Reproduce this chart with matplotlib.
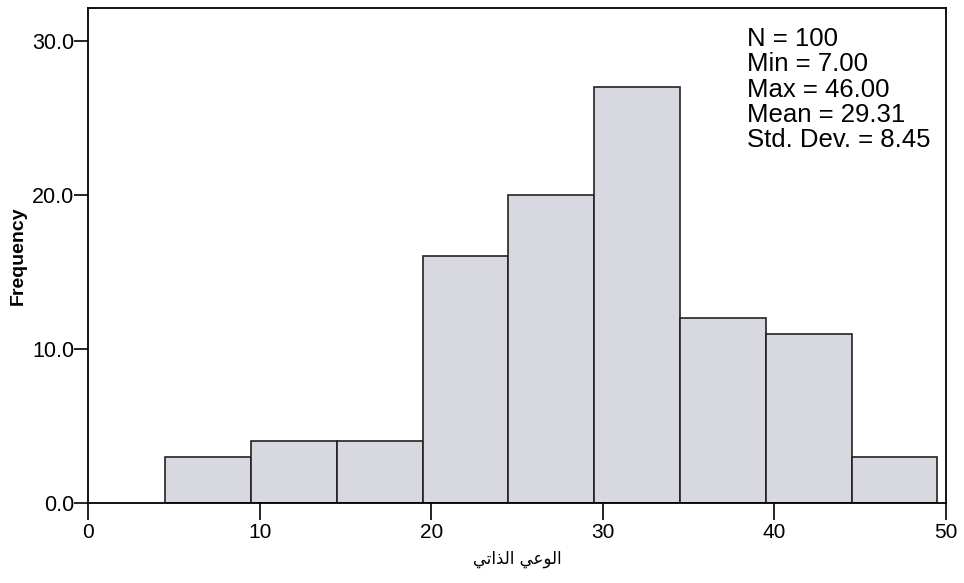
import matplotlib.pyplot as plt
import numpy as np

# bordes de las clases y frecuencias
bordes = [4.5, 9.5, 14.5, 19.5, 24.5, 29.5, 34.5, 39.5, 44.5, 49.5]
frecuencias = [3, 4, 4, 16, 20, 27, 12, 11, 3]
ticks_x = [0, 10, 20, 30, 40, 50]
ticks_y = [0, 10, 20, 30]
estadisticas = ["N = 100", "Min = 7.00", "Max = 46.00", "Mean = 29.31", "Std. Dev. = 8.45"]

# "الوعي الذاتي" con formas de presentación (matplotlib no da forma al árabe)
etiqueta_x = "\uFEF2\uFE97\uFE8D\uFEAC\uFEDF\uFE8D \uFEF2\uFECB\uFEEE\uFEDF\uFE8D"

plt.rcParams['font.family'] = ['Liberation Sans', 'DejaVu Sans']

fig = plt.figure(figsize=(9.64, 5.83), dpi=100)
ax = fig.add_axes([0.0913, 0.137, 0.890, 0.849])

anchos = np.diff(bordes)
ax.bar(bordes[:-1], frecuencias, width=anchos, align='edge',
       color='#d8d9e0', edgecolor='#222222', linewidth=1.2)

ax.set_xlim(0, 50)
ax.set_ylim(0, 32.1)
ax.set_xticks(ticks_x)
ax.set_yticks(ticks_y)
ax.set_yticklabels([f"{v:.1f}" for v in ticks_y])
ax.tick_params(axis='x', direction='out', length=12, width=1.2, labelsize=15, pad=2)
ax.tick_params(axis='y', direction='out', length=10, width=1.2, labelsize=15.5, pad=0)
for s in ax.spines.values():
    s.set_linewidth(1.3)

ax.set_ylabel("Frequency", fontsize=14, fontweight='bold', labelpad=4)
ax.set_xlabel(etiqueta_x, family=['DejaVu Sans'], fontsize=12, labelpad=6)

ax.text(0.768, 0.962, "\n".join(estadisticas), transform=ax.transAxes,
        ha='left', va='top', fontsize=18.5, linespacing=1.07)

fig.savefig("out.png", dpi=100)
